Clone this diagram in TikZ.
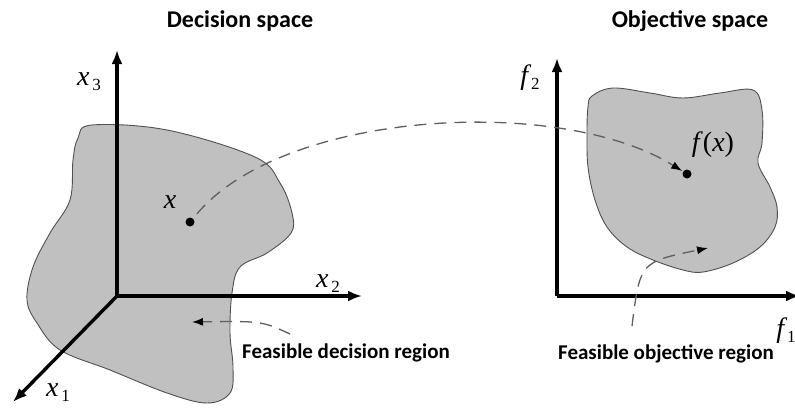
\documentclass[tikz,border=0pt]{standalone}
\usepackage{fontspec}
\setmainfont{Carlito}
\newfontfamily\tnr{Liberation Serif}
\usetikzlibrary{arrows.meta}
\definecolor{regiongray}{RGB}{192, 192, 192}
\definecolor{edgegray}{RGB}{80, 80, 80}
\definecolor{dashgray}{RGB}{95, 95, 95}
% Achsenbeschriftung: kursiver Buchstabe mit tiefgestelltem Index
\newcommand{\axlbl}[2]{{\tnr\itshape\fontsize{28}{28}\selectfont #1}\kern3pt\raisebox{-5pt}{\tnr\fontsize{17}{17}\selectfont #2}}

\begin{document}
\begin{tikzpicture}[x=1pt, y=-1pt,
				>={Latex[length=14pt,width=11pt]},   %Voreinstellung fuer Pfeilspitzen
				axis/.style={->, line width=3.4pt, black},
				region/.style={fill=regiongray, draw=edgegray, line width=0.9pt},
				mapline/.style={dashgray, line width=1.3pt, dash pattern=on 12pt off 8pt},
				title/.style={font=\bfseries\fontsize{24}{24}\selectfont},
				regtext/.style={font=\bfseries\fontsize{21}{21}\selectfont},
				dot/.style={circle, fill=black, inner sep=0pt, minimum size=9pt}]
				%Bildbereich
				\useasboundingbox (0,0) rectangle (795,415);
				\clip (0,0) rectangle (795,415);
				% Ueberschriften
				\node[title] (dtitle) at (240,21) {Decision space};
				\node[title] (otitle) at (690,21) {Objective space};
				% zulaessige Bereiche zeichnen
				\draw[region] plot[smooth cycle, tension=0.6] coordinates {
					(92,125) (167,130) (255,157) (280,183) (292,213) (291,233)
					(267,253) (240,267) (232,293) (230,333) (233,367) (230,393)
					(207,403) (167,393) (110,370) (60,350) (37,323) (27,300)
					(33,267) (50,233) (70,200) (73,160) (78,138)};
				\draw[region] plot[smooth cycle, tension=0.6] coordinates {
					(592,96) (613,88) (650,93) (683,98) (720,93) (753,90)
					(762,110) (762,143) (758,163) (770,187) (777,207) (775,227)
					(760,247) (733,263) (703,272) (683,270) (653,260) (627,247)
					(607,227) (595,200) (588,167) (587,133) (588,107)};
				% Achsen zeichnen
				\coordinate (O1) at (117,296);
				\coordinate (X1) at (13,402);
				\coordinate (X2) at (362,296);
				\coordinate (X3) at (117,50);
				\coordinate (O2) at (557,296);
				\coordinate (F1) at (800,296);
				\coordinate (F2) at (557,58);
				\draw[axis] (O1) -- (X1);
				\draw[axis] (O1) -- (X2);
				\draw[axis] (O1) -- (X3);
				\draw[axis] (O2) -- (F1);
				\draw[axis] (O2) -- (F2);
				% Achsen beschriften
				\node (lx3) at (89,82) {\axlbl{x}{3}};
				\node (lx2) at (328,284) {\axlbl{x}{2}};
				\node (lx1) at (58,393) {\axlbl{x}{1}};
				\node (lf2) at (530,78) {\axlbl{f}{2}};
				\node (lf1) at (786,331) {\axlbl{f}{1}};
				% Punkte
				\node[dot] (xpt) at (190,222) {};
				\node[dot] (fxpt) at (687,174) {};
				\node (xlbl) at (170,202) {\tnr\itshape\fontsize{28}{28}\selectfont x};
				\node (fxlbl) at (713,145) {\tnr\fontsize{28}{28}\selectfont\textit{f}(\textit{x})};
				% Abbildung x -> f(x)
				\draw[mapline, -{Latex[black,length=11pt,width=8pt]}, shorten <=6pt, shorten >=1pt]
					(xpt) .. controls (285,110) and (560,95) .. (fxpt);
				% Bereichsbeschriftung
				\node[regtext] (dreg) at (346,353) {Feasible decision region};
				\node[regtext] (oreg) at (666,354) {Feasible objective region};
				\coordinate (dtail) at (290,334);
				\coordinate (dtip) at (192,322);
				\coordinate (otail) at (632,326);
				\coordinate (otip) at (708,248);
				\draw[mapline, -{Latex[black,length=11pt,width=8pt]}] (dtail) .. controls (262,321) .. (dtip);
				\draw[mapline, -{Latex[black,length=11pt,width=8pt]}] (otail) .. controls (640,262) .. (otip);
			\end{tikzpicture}
\end{document}
